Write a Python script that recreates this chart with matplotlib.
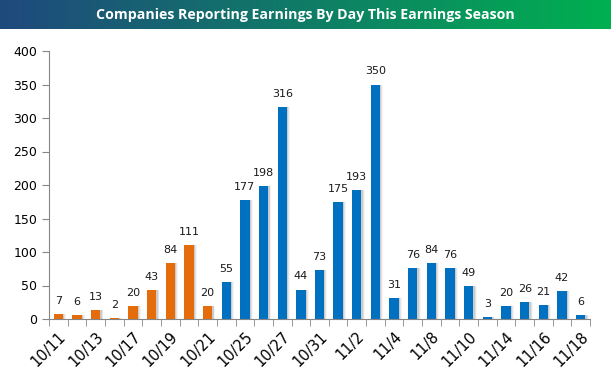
import numpy as np
import matplotlib.pyplot as plt
from matplotlib.colors import LinearSegmentedColormap

# Reporting days this season
dates = ["10/11", "10/12", "10/13", "10/14", "10/17", "10/18", "10/19", "10/20",
         "10/21", "10/24", "10/25", "10/26", "10/27", "10/28", "10/31", "11/1",
         "11/2", "11/3", "11/4", "11/7", "11/8", "11/9", "11/10", "11/11",
         "11/14", "11/15", "11/16", "11/17", "11/18"]
counts = [7, 6, 13, 2, 20, 43, 84, 111, 20, 55, 177, 198, 316, 44, 73, 175,
          193, 350, 31, 76, 84, 76, 49, 3, 20, 26, 21, 42, 6]
n_reported = 9  # first bars (already reported) are orange

fig = plt.figure(figsize=(6.11, 3.72), dpi=100)

# title bar with blue -> green gradient
tax = fig.add_axes([0, 1 - 29 / 372, 1, 29 / 372])
cmap = LinearSegmentedColormap.from_list("hdr", ["#1F497D", "#00B050"])
tax.imshow(np.linspace(0, 1, 256)[None, :], aspect="auto", cmap=cmap,
           extent=[0, 1, 0, 1])
tax.set_axis_off()
tax.text(0.5, 0.5, "Companies Reporting Earnings By Day This Earnings Season",
         color="white", fontsize=10.2, fontweight="bold", ha="center", va="center",
         family="Open Sans")

ax = fig.add_axes([49 / 611, 1 - 319 / 372, (590 - 49) / 611, (319 - 51) / 372])
x = np.arange(len(counts))
colors = ["#E46C0A" if i < n_reported else "#0070C0" for i in range(len(counts))]

# soft shadow behind bars
for k, a in enumerate([0.10, 0.07, 0.04]):
    ax.bar(x + 0.07 + 0.05 * k, counts, width=0.5, color="black", alpha=a,
           zorder=1, linewidth=0)
ax.bar(x, counts, width=0.5, color=colors, zorder=2, linewidth=0)

for xi, v in zip(x, counts):
    ax.text(xi, v + 12, str(v), ha="center", va="bottom", fontsize=8,
            color="#1a1a1a")

ax.set_xlim(-0.5, len(counts) - 0.5)
ax.set_ylim(0, 400)
ax.set_yticks(range(0, 401, 50))
ax.set_xticks(x[::2])
ax.set_xticklabels(dates[::2], rotation=45, ha="right", rotation_mode="anchor",
                   fontsize=10.5)
ax.set_xticks(np.arange(-0.5, len(counts), 1), minor=True)
ax.tick_params(axis="x", which="major", length=0, pad=7)
ax.tick_params(axis="x", which="minor", length=5, color="#868686")
ax.tick_params(axis="y", length=5, color="#868686", labelsize=9)

for s in ["top", "right"]:
    ax.spines[s].set_visible(False)
for s in ["left", "bottom"]:
    ax.spines[s].set_color("#868686")

fig.savefig("out.png", dpi=100)
